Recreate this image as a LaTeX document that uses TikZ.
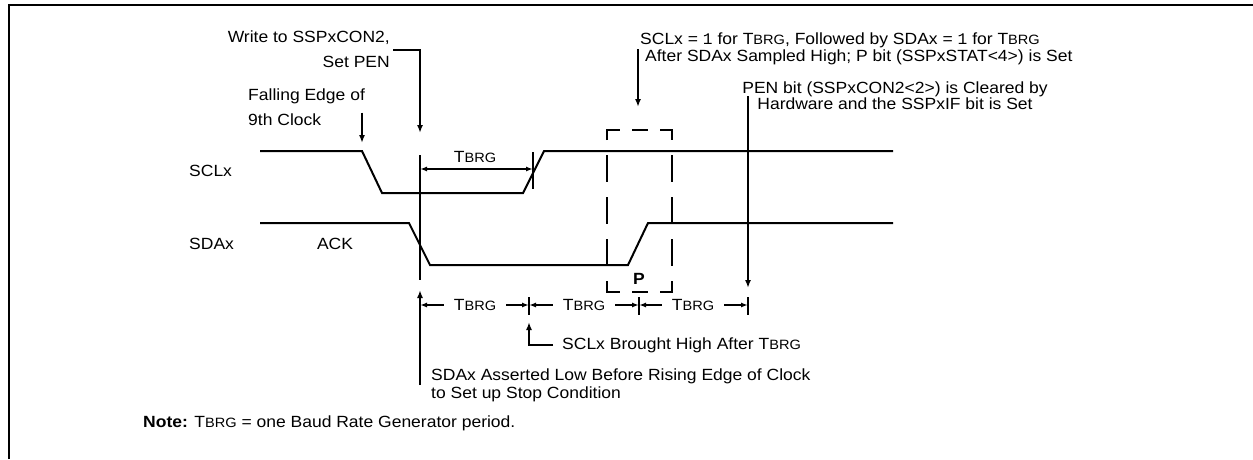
\documentclass[tikz,border=0pt]{standalone}
\usepackage{fontspec}
\setmainfont{Liberation Sans}[FakeStretch=1.08]
\setmonofont{Liberation Mono}
\usetikzlibrary{arrows.meta}
\newcommand\tbrg{T{\fontsize{13.5}{13.5}\selectfont BRG}}
\begin{document}
\begin{tikzpicture}[x=1pt,y=-1pt,font=\fontsize{16.2}{18}\selectfont,
  sig/.style={line width=2pt,line join=miter},
  lead/.style={line width=2pt},
  arr/.style={line width=2pt,-{Latex[length=8pt,width=6pt]}},
  dim/.style={line width=1.6pt,-{Latex[length=7pt,width=5pt]}},
  dimb/.style={line width=1.6pt,{Latex[length=7pt,width=5pt]}-{Latex[length=7pt,width=5pt]}},
  dsh/.style={line width=2pt},
  txt/.style={inner sep=0pt},
  lbl/.style={inner sep=0pt,inner xsep=10pt}]
\useasboundingbox (0,0) rectangle (1253,459);
% frame
\draw[line width=2.5pt] (9,459) -- (9,5) -- (1253,5);
% signals
\draw[sig] (260,151) -- (362,151) -- (382,193) -- (523,193) -- (544,151) -- (893,151);
\draw[sig] (260,223) -- (409,223) -- (430,265) -- (628,265) -- (648,223) -- (893,223);
\node[txt,anchor=west] (sclx) at (189,171) {SCLx};
\node[txt,anchor=west] (sdax) at (189,244) {SDAx};
\node[txt] (ack) at (335,244) {ACK};
% vertical marker line
\coordinate (v1) at (420,155);
\coordinate (v2) at (420,280);
\draw[lead] (v1) -- (v2);
% write to SSPxCON2
\node[txt,align=right,anchor=north east] (write) at (390,31) {Write to SSPxCON2,\\[7pt]Set PEN};
\coordinate (wtip) at (420,133);
\draw[arr] ([xshift=3pt]write.east) -| (wtip);
% falling edge
\node[txt,align=left,anchor=north west] (fall) at (248,89) {Falling Edge of\\[7pt]9th Clock};
\coordinate (ftip) at (362,143);
\draw[arr] ([yshift=-5pt]fall.center -| ftip) -- (ftip);
% top TBRG
\node[txt] (t1) at (475,157) {\tbrg};
\coordinate (d1l) at (420,169);
\coordinate (d1r) at (533,169);
\coordinate (tk1a) at (533,152);
\coordinate (tk1b) at (533,189);
\draw[lead] (tk1a) -- (tk1b);
\draw[dimb] (d1l) -- (d1r);
% SCLx = 1 text
\node[txt,align=left,anchor=north west] (sclone) at (640,33) {SCLx = {\ttfamily 1} for \tbrg, Followed by SDAx = {\ttfamily 1} for \tbrg\\[-1pt]\hspace{5pt}After SDAx Sampled High; P bit (SSPxSTAT<4>) is Set};
\coordinate (stip) at (638,107);
\draw[arr] (sclone.west -| stip) -- (stip);
% PEN bit text
\node[txt,align=center,anchor=north] (pen) at (895,82) {PEN bit (SSPxCON2<2>) is Cleared by\\[-2pt]Hardware and the SSPxIF bit is Set};
\coordinate (ptip) at (748,288);
\draw[arr] (pen.center -| ptip) -- (ptip);
% dashed box
\draw[dsh] (607,140) -- (607,130) -- (620,130);
\draw[dsh] (632,130) -- (648,130);
\draw[dsh] (660,130) -- (672,130) -- (672,140);
\draw[dsh] (607,281) -- (607,292) -- (620,292);
\draw[dsh] (632,292) -- (648,292);
\draw[dsh] (660,292) -- (672,292) -- (672,281);
\foreach \a/\b in {155/182,197/224,239/266}{
  \draw[dsh] (607,\a) -- (607,\b);
  \draw[dsh] (672,\a) -- (672,\b);
}
\node[txt,font=\fontsize{16.2}{18}\selectfont\bfseries] (p) at (639,279) {P};
% bottom dimension row
\coordinate (utip) at (420,290);
\coordinate (ubot) at (420,385);
\draw[arr] (ubot) -- (utip);
\coordinate (k2a) at (529,297); \coordinate (k2b) at (529,315);
\coordinate (k3a) at (639,297); \coordinate (k3b) at (639,315);
\coordinate (k4a) at (748,297); \coordinate (k4b) at (748,315);
\draw[lead] (k2a) -- (k2b);
\draw[lead] (k3a) -- (k3b);
\draw[lead] (k4a) -- (k4b);
\node[lbl] (b1) at (475,305) {\tbrg};
\node[lbl] (b2) at (584,305) {\tbrg};
\node[lbl] (b3) at (693,305) {\tbrg};
\draw[dim] (b1.west) -- (b1.west -| utip);
\draw[dim] (b1.east) -- (b1.east -| k2a);
\draw[dim] (b2.west) -- (b2.west -| k2a);
\draw[dim] (b2.east) -- (b2.east -| k3a);
\draw[dim] (b3.west) -- (b3.west -| k3a);
\draw[dim] (b3.east) -- (b3.east -| k4a);
% SCLx brought high
\node[txt,anchor=west] (brought) at (562,345) {SCLx Brought High After \tbrg};
\coordinate (btip) at (529,322);
\draw[arr] ([xshift=-9pt]brought.west) -| (btip);
% SDAx asserted
\node[txt,align=left,anchor=north west] (assert) at (431,369) {SDAx Asserted Low Before Rising Edge of Clock\\to Set up Stop Condition};
% note
\node[txt,anchor=west] (note) at (143,423) {\textbf{Note:} \tbrg{} = one Baud Rate Generator period.};
\end{tikzpicture}
\end{document}
